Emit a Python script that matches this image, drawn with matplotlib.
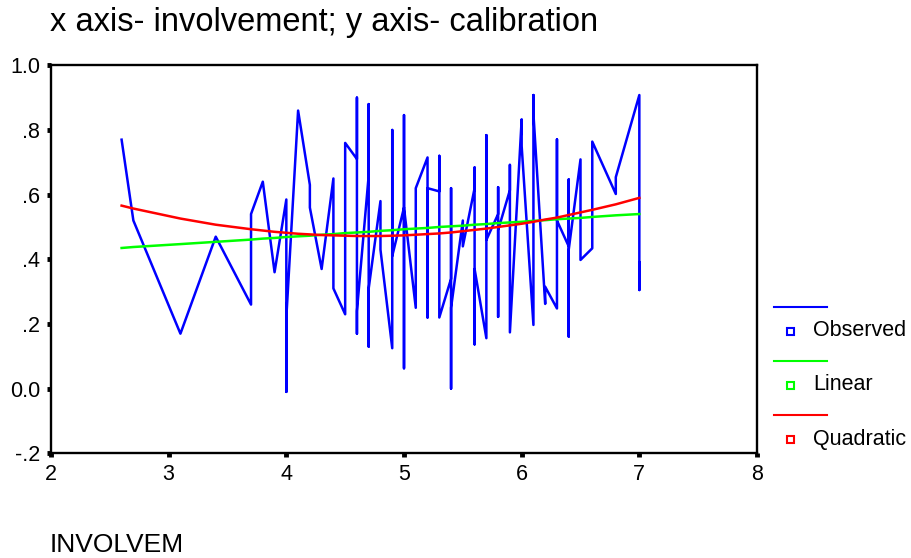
import matplotlib
matplotlib.use("Agg")
import matplotlib.pyplot as plt
from matplotlib.lines import Line2D
from matplotlib.patches import Rectangle

plt.rcParams['font.family'] = ['Liberation Sans', 'DejaVu Sans']

title = "x axis- involvement; y axis- calibration"
xlabel = "INVOLVEM"

obs_x = [2.6, 2.7, 3.1, 3.4, 3.7, 3.7, 3.8, 3.9, 4.0, 4.0, 4.0, 4.1, 4.2, 4.2, 4.3,
         4.4, 4.4, 4.5, 4.5, 4.6, 4.6, 4.6, 4.6, 4.7, 4.7, 4.7, 4.7, 4.8, 4.8, 4.9,
         4.9, 4.9, 5.0, 5.0, 5.0, 5.0, 5.1, 5.1, 5.2, 5.2, 5.2, 5.3, 5.3, 5.3, 5.4,
         5.4, 5.4, 5.4, 5.5, 5.5, 5.6, 5.6, 5.6, 5.6, 5.7, 5.7, 5.7, 5.8, 5.8, 5.8,
         5.8, 5.9, 5.9, 5.9, 6.0, 6.0, 6.1, 6.1, 6.1, 6.2, 6.2, 6.3, 6.3, 6.3, 6.4,
         6.4, 6.4, 6.4, 6.5, 6.5, 6.6, 6.6, 6.8, 6.8, 7.0, 7.0, 7.0]
obs_y = [0.77, 0.52, 0.17, 0.47, 0.26, 0.54, 0.64, 0.36, 0.585, -0.01, 0.22, 0.86, 0.63, 0.56, 0.37,
         0.65, 0.31, 0.23, 0.76, 0.71, 0.90, 0.17, 0.24, 0.66, 0.88, 0.13, 0.31, 0.58, 0.43, 0.125,
         0.80, 0.41, 0.56, 0.846, 0.063, 0.56, 0.25, 0.62, 0.715, 0.22, 0.62, 0.61, 0.72, 0.22, 0.34,
         0.62, 0.00, 0.25, 0.52, 0.44, 0.62, 0.684, 0.137, 0.37, 0.156, 0.784, 0.46, 0.54, 0.623, 0.222,
         0.49, 0.614, 0.692, 0.174, 0.833, 0.75, 0.197, 0.908, 0.85, 0.262, 0.315, 0.248, 0.771, 0.52, 0.44,
         0.647, 0.161, 0.43, 0.709, 0.398, 0.434, 0.764, 0.602, 0.654, 0.908, 0.305, 0.39]

fit_x = [2.6, 2.7, 3.1, 3.4, 3.7, 3.8, 3.9, 4.0, 4.1, 4.2, 4.3, 4.4, 4.5, 4.6, 4.7, 4.8, 4.9, 5.0,
         5.1, 5.2, 5.3, 5.4, 5.5, 5.6, 5.7, 5.8, 5.9, 6.0, 6.1, 6.2, 6.3, 6.4, 6.5, 6.6, 6.8, 7.0]
linear_y = [0.435, 0.438, 0.447, 0.454, 0.461, 0.464, 0.466, 0.469, 0.471, 0.473, 0.476, 0.478,
            0.481, 0.483, 0.485, 0.488, 0.490, 0.493, 0.495, 0.497, 0.500, 0.502, 0.504, 0.507,
            0.509, 0.512, 0.514, 0.516, 0.519, 0.521, 0.524, 0.526, 0.528, 0.531, 0.536, 0.540]
quad_y = [0.566, 0.557, 0.526, 0.507, 0.493, 0.489, 0.485, 0.482, 0.479, 0.477, 0.475, 0.474,
          0.473, 0.472, 0.472, 0.472, 0.473, 0.474, 0.476, 0.478, 0.480, 0.483, 0.487, 0.491,
          0.495, 0.500, 0.505, 0.510, 0.516, 0.523, 0.529, 0.537, 0.545, 0.553, 0.570, 0.590]

xticks = [2, 3, 4, 5, 6, 7, 8]
xtick_labels = ["2", "3", "4", "5", "6", "7", "8"]
yticks = [-0.2, 0.0, 0.2, 0.4, 0.6, 0.8, 1.0]
ytick_labels = ["-.2", "0.0", ".2", ".4", ".6", ".8", "1.0"]

series_names = ["Observed", "Linear", "Quadratic"]
series_colors = ["#0000ff", "#00ff00", "#ff0000"]

W, H = 911, 558
fig = plt.figure(figsize=(W / 100, H / 100), dpi=100)
ax = fig.add_axes([51 / W, 1 - 453.3 / H, (757 - 51) / W, (453.3 - 65.3) / H])

ax.plot(obs_x, obs_y, color=series_colors[0], lw=1.8)
ax.plot(fit_x, linear_y, color=series_colors[1], lw=1.8)
ax.plot(fit_x, quad_y, color=series_colors[2], lw=1.8)

ax.set_xlim(2, 8)
ax.set_ylim(-0.2, 1.0)
ax.set_xticks(xticks)
ax.set_xticklabels(xtick_labels)
ax.set_yticks(yticks)
ax.set_yticklabels(ytick_labels)
ax.tick_params(direction='out', length=3, width=3.5, labelsize=15.5, color='black')
ax.tick_params(axis='x', pad=5)
ax.tick_params(axis='y', pad=5)
for s in ax.spines.values():
    s.set_linewidth(1.7)
    s.set_color('black')

fig.text(50 / W, 1 - 23 / H, title, fontsize=23.5, ha='left', va='center')
fig.text(50 / W, 1 - 545 / H, xlabel, fontsize=19, ha='left', va='center')

# legend (SPSS style: line above, small square + label below)
line_y = [307, 361, 415]
for name, col, ly in zip(series_names, series_colors, line_y):
    fig.add_artist(Line2D([774 / W, 827 / W], [1 - ly / H, 1 - ly / H], color=col, lw=1.5))
    sy = ly + 24
    fig.add_artist(Rectangle((787 / W, 1 - (sy + 3.5) / H), 7 / W, 7 / H,
                             facecolor='white', edgecolor=col, lw=1.5))
    fig.text(813 / W, 1 - sy / H, name, fontsize=15.5, ha='left', va='center')

fig.savefig("out.png", dpi=100)
